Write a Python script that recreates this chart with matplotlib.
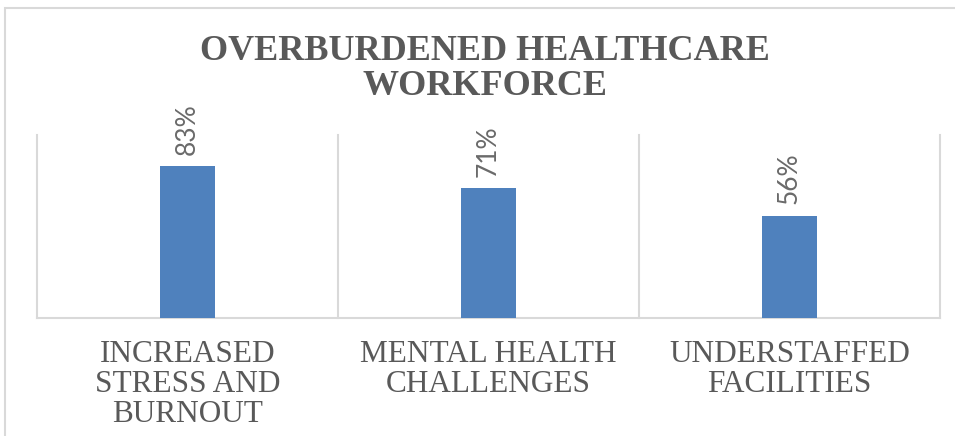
import matplotlib.pyplot as plt
from matplotlib.patches import Rectangle

categories = ["INCREASED\nSTRESS AND\nBURNOUT", "MENTAL HEALTH\nCHALLENGES", "UNDERSTAFFED\nFACILITIES"]
values = [83, 71, 56]
title = "OVERBURDENED HEALTHCARE\nWORKFORCE"

bar_color = "#4F81BD"
grid_color = "#D9D9D9"
text_color = "#595959"

plt.rcParams['font.family'] = ['Liberation Serif', 'DejaVu Serif']

fig = plt.figure(figsize=(9.55, 4.36), dpi=100)
# chart frame (cut off on right and bottom like the reference)
fig.patches.append(Rectangle((5 / 955, -0.1), 1.2, 1.1 - 8 / 436, transform=fig.transFigure,
                             fill=False, edgecolor=grid_color, linewidth=1.5))

ax = fig.add_axes([37 / 955, 118 / 436, 903 / 955, 183 / 436])
pos = [i + 0.5 for i in range(len(values))]
ax.bar(pos, values, width=0.183, color=bar_color, zorder=3)

ax.set_xlim(0, len(values))
ax.set_ylim(0, 100)
for s in ax.spines.values():
    s.set_visible(False)
for x in range(len(values) + 1):
    ax.axvline(x, color=grid_color, linewidth=1.5, clip_on=False, zorder=1)
ax.axhline(0, color=grid_color, linewidth=1.5, clip_on=False, zorder=2)

ax.set_yticks([])
ax.set_xticks(pos)
ax.set_xticklabels(categories, fontsize=22.5, color=text_color, linespacing=1.03)
ax.tick_params(axis='x', length=0, pad=16)

# value labels in a sans face, rotated like the reference
for p, v in zip(pos, values):
    ax.annotate(f"{v}%", (p, v), xytext=(0, 8), textcoords='offset points',
                rotation=90, ha='center', va='bottom', fontsize=19,
                family=['Lato', 'DejaVu Sans'], color='#6A6A6A')

fig.text(0.508, 1 - 35 / 436, title, ha='center', va='top', fontsize=26,
         fontweight='bold', color=text_color, linespacing=1.08)

fig.savefig("out.png", dpi=100)
